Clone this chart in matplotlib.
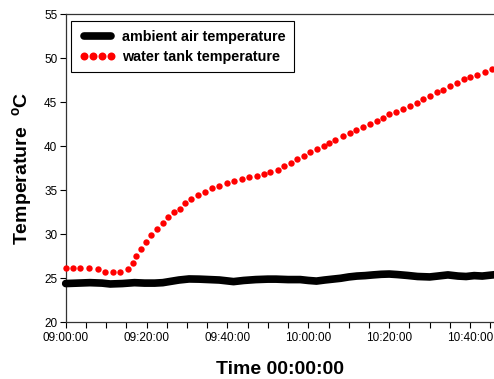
import matplotlib
matplotlib.use("Agg")
import matplotlib.pyplot as plt
from matplotlib.ticker import MultipleLocator, FixedLocator

plt.rcParams['font.family'] = ['Liberation Sans', 'DejaVu Sans']
plt.rcParams['mathtext.fontset'] = 'custom'
plt.rcParams['mathtext.rm'] = 'Liberation Sans'
plt.rcParams['mathtext.bf'] = 'Liberation Sans:bold'

# minutes after 09:00:00
amb_t = [0, 3, 6, 9, 11, 14, 17, 19.5, 22, 24, 26, 28, 30.5, 33, 35.5, 38, 41.5, 44, 47,
         50, 52, 55, 58, 60, 62, 64, 66, 68, 70, 72, 74, 76, 78, 80, 82, 84.5, 87, 90,
         92, 94.5, 97, 99, 101, 103, 106]
amb = [24.4, 24.45, 24.5, 24.45, 24.35, 24.4, 24.5, 24.45, 24.45, 24.5, 24.65, 24.8,
       24.92, 24.9, 24.85, 24.8, 24.62, 24.75, 24.85, 24.9, 24.9, 24.85, 24.85, 24.75,
       24.68, 24.8, 24.9, 25.0, 25.15, 25.25, 25.3, 25.38, 25.45, 25.48, 25.42, 25.32,
       25.2, 25.15, 25.25, 25.38, 25.25, 25.2, 25.3, 25.25, 25.4]

tank_t = [0, 1.7, 3.5, 5.7, 7.9, 9.8, 11.6, 13.5, 15.3, 16.6, 17.4, 18.6, 19.9, 21.2,
          22.6, 24.0, 25.4, 26.8, 28.2, 29.6, 31.1, 32.8, 34.4, 36.1, 37.9, 39.8, 41.7,
          43.5, 45.3, 47.4, 49.1, 50.6, 52.4, 54.0, 55.6, 57.3, 58.8, 60.5, 62.1, 63.9,
          65.2, 66.7, 68.5, 70.2, 71.9, 73.4, 75.2, 76.9, 78.4, 80.0, 81.7, 83.5, 85.1,
          86.8, 88.4, 90.1, 91.7, 93.3, 95.0, 96.7, 98.5, 100.0, 101.6, 103.7, 105.3]
tank = [26.2, 26.2, 26.14, 26.14, 26.0, 25.75, 25.68, 25.68, 26.02, 26.7, 27.5, 28.3,
        29.1, 29.9, 30.6, 31.3, 31.9, 32.5, 32.9, 33.5, 34.0, 34.5, 34.8, 35.25, 35.5,
        35.8, 36.0, 36.3, 36.5, 36.6, 36.8, 37.1, 37.3, 37.7, 38.1, 38.5, 38.9, 39.35,
        39.7, 40.0, 40.3, 40.7, 41.1, 41.5, 41.8, 42.2, 42.5, 42.9, 43.2, 43.6, 43.9,
        44.2, 44.5, 44.9, 45.3, 45.7, 46.1, 46.4, 46.8, 47.2, 47.6, 47.9, 48.1, 48.45, 48.8]

x_ticks = [0, 20, 40, 60, 80, 100]
x_labels = ["09:00:00", "09:20:00", "09:40:00", "10:00:00", "10:20:00", "10:40:00"]
y_ticks = [20, 25, 30, 35, 40, 45, 50, 55]

W, H = 494, 379
fig = plt.figure(figsize=(W / 100, H / 100), dpi=100)
left_px, right_px, top_px, bot_px = 65.7, 494, 14, 322.3
ax = fig.add_axes([left_px / W, 1 - bot_px / H, (right_px - left_px) / W, (bot_px - top_px) / H])

ax.plot(amb_t, amb, color='black', lw=5.5, solid_capstyle='round',
        label='ambient air temperature', clip_on=False, zorder=3)
ax.plot(tank_t, tank, linestyle='none', marker='o', ms=4.6, color='#ff0000',
        markeredgewidth=0, label='water tank temperature', clip_on=False, zorder=4)

ax.set_xlim(0, 105.9)
ax.set_ylim(20, 55)
ax.xaxis.set_major_locator(FixedLocator(x_ticks))
ax.set_xticklabels(x_labels)
ax.xaxis.set_minor_locator(MultipleLocator(5))
ax.set_yticks(y_ticks)
ax.tick_params(axis='both', which='major', direction='out', length=4, width=0.8,
               labelsize=8.5, colors='black')
ax.tick_params(axis='x', which='minor', direction='out', length=4, width=0.8)
ax.tick_params(axis='x', pad=3)
ax.tick_params(axis='y', pad=2)
for s in ax.spines.values():
    s.set_linewidth(0.9)
    s.set_color('#333333')
ax.spines['right'].set_visible(False)

ax.set_xlabel('Time 00:00:00', fontsize=14, fontweight='bold', labelpad=12)
ax.set_ylabel(r'Temperature  $\mathbf{^{o}C}$', fontsize=14, fontweight='bold', labelpad=7)

leg = ax.legend(loc='upper left', bbox_to_anchor=(0.0125, 0.977), borderaxespad=0,
                frameon=True, fancybox=False, edgecolor='black', framealpha=1,
                prop={'weight': 'bold', 'size': 10.4}, handlelength=2.5, numpoints=4,
                markerscale=1.25, borderpad=0.6, labelspacing=0.42, handletextpad=0.4)
leg.get_frame().set_linewidth(0.8)

fig.savefig('out.png', dpi=100)
